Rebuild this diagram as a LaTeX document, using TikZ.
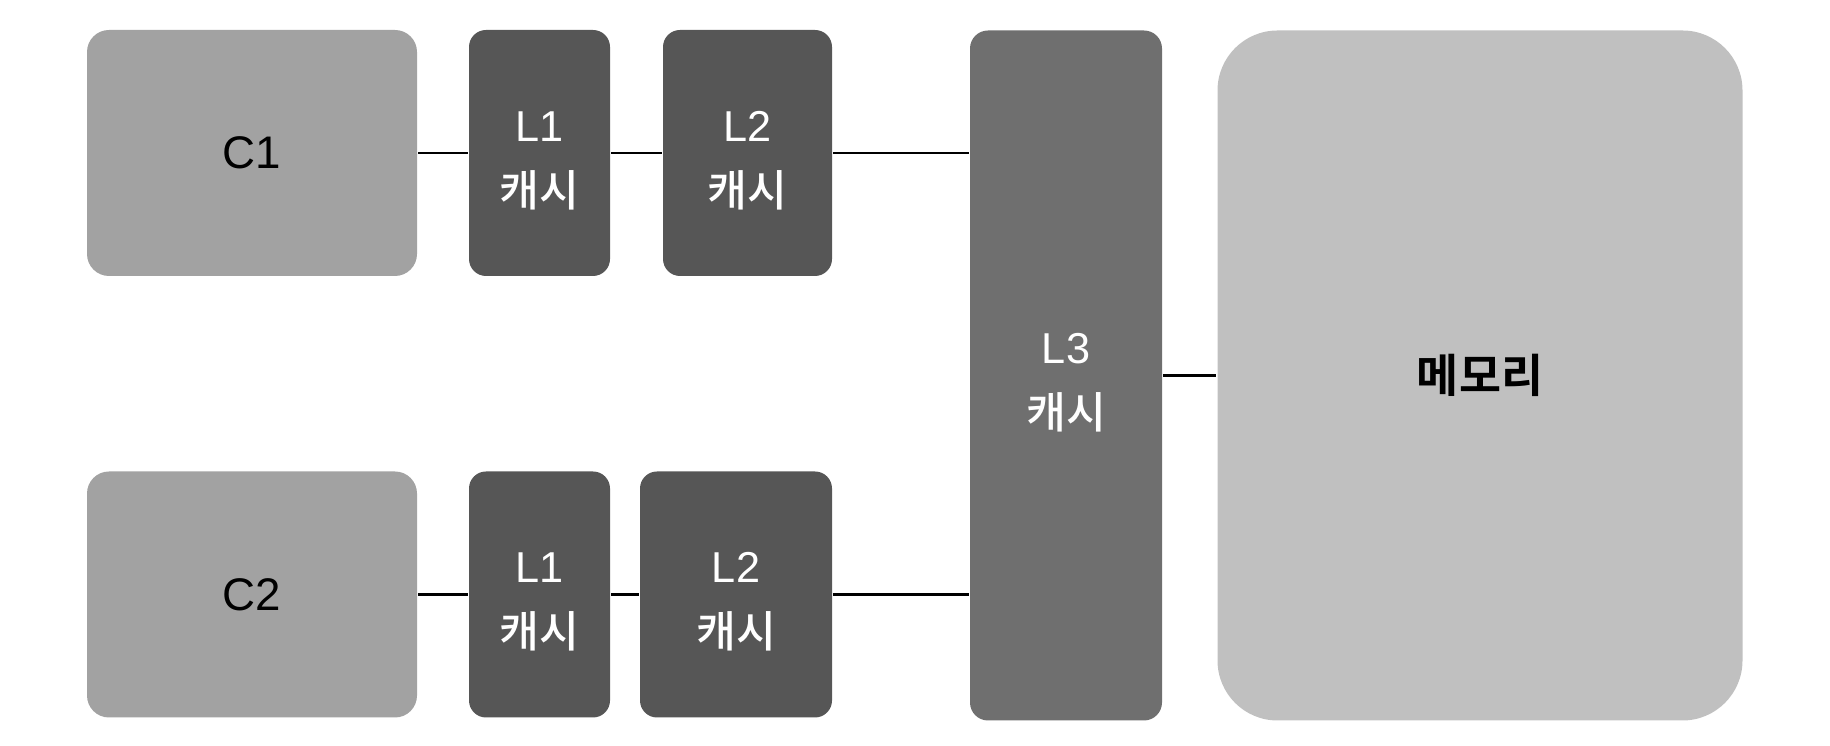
\documentclass[tikz,border=0pt]{standalone}
\usepackage{fontspec}
\setmainfont{Liberation Sans}
\newfontfamily\hangul{Noto Sans CJK KR}[UprightFont=* Medium, BoldFont=* Bold]
\usepackage{tikz}

\definecolor{coregray}{RGB}{162,162,162}
\definecolor{cachedark}{RGB}{86,86,86}
\definecolor{lastgray}{RGB}{111,111,111}
\definecolor{memgray}{RGB}{192,192,192}

\newcommand{\cachetext}[1]{\rule{0pt}{0.45cm}#1\\{\hangul 캐시}}

\begin{document}
\begin{tikzpicture}[x=1cm, y=-1cm, line width=0.8pt,
    core/.style={fill=coregray, rounded corners=0.22cm, inner sep=0pt,
        minimum width=3.3cm, minimum height=2.46cm,
        font=\fontsize{13}{16}\selectfont},
    cache/.style={fill=cachedark, text=white, rounded corners=0.17cm,
        inner sep=0pt, align=center, minimum height=2.46cm,
        font=\fontsize{12.3}{18.5}\selectfont}]
    \useasboundingbox (0,0) rectangle (18.3,7.46);

    \node[core] (c1) at (2.52,1.53) {C1};
    \node[core] (c2) at (2.52,5.945) {C2};

    \node[cache, minimum width=1.41cm] (l1a) at (5.395,1.53) {\cachetext{L1}};
    \node[cache, minimum width=1.69cm] (l2a) at (7.475,1.53) {\cachetext{L2}};

    \node[cache, minimum width=1.41cm] (l1b) at (5.395,5.945) {\cachetext{L1}};
    \node[cache, minimum width=1.92cm] (l2b) at (7.36,5.945) {\cachetext{L2}};

    \node[cache, fill=lastgray, rounded corners=0.18cm,
        minimum width=1.92cm, minimum height=6.9cm]
        (l3) at (10.66,3.755) {\cachetext{L3}};

    \node[fill=memgray, rounded corners=0.6cm, inner sep=0pt,
        minimum width=5.25cm, minimum height=6.9cm,
        font=\fontsize{13}{16}\selectfont\hangul\bfseries]
        (mem) at (14.80,3.755) {메모리};

    \draw (c1) -- (l1a);
    \draw (l1a) -- (l2a);
    \draw (l2a) -- (l2a -| l3.west);

    \draw (c2) -- (l1b);
    \draw (l1b) -- (l2b);
    \draw (l2b) -- (l2b -| l3.west);

    \draw (l3) -- (mem);
\end{tikzpicture}
\end{document}
